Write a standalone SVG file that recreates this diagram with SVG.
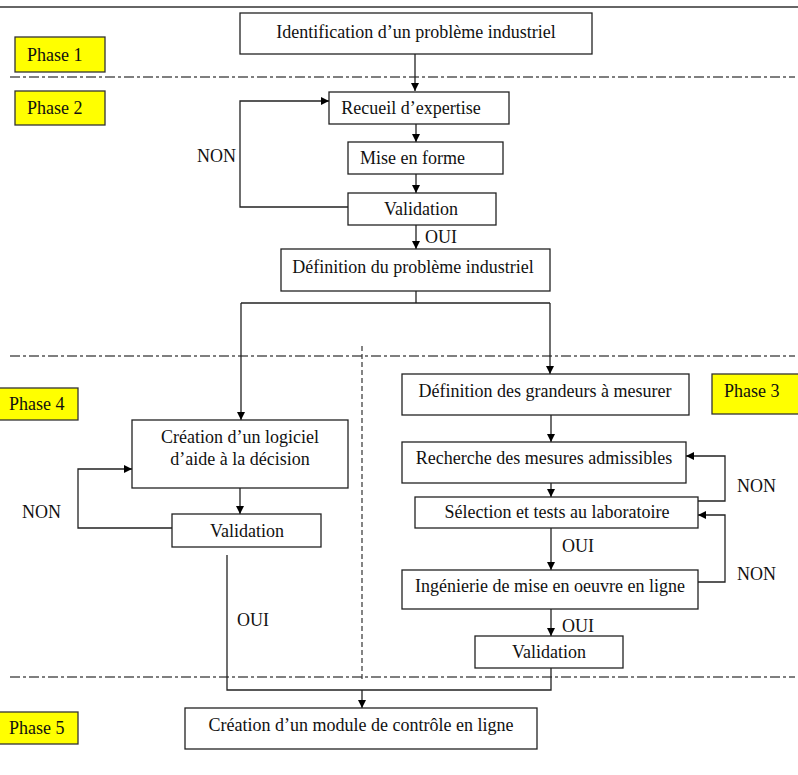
<svg xmlns="http://www.w3.org/2000/svg" width="798" height="775" viewBox="0 0 798 775" font-family="'Liberation Serif', 'Times New Roman', Times, serif" font-size="18">
<style>
.box{fill:#fff;stroke:#222;stroke-width:1.3}
.ph{fill:#ffff00;stroke:#333;stroke-width:1.3}
.t{font-family:'Liberation Serif','Times New Roman',Times,serif;font-size:18px;fill:#111}
.c{text-anchor:middle}
.ln{fill:none;stroke:#222;stroke-width:1.3}
.dd{fill:none;stroke:#555;stroke-width:1.3;stroke-dasharray:10 3 3 3}
.vd{fill:none;stroke:#333;stroke-width:1.2;stroke-dasharray:5 3}
</style>
<defs>
<marker id="ar" viewBox="0 0 10 10" refX="10" refY="5" markerWidth="8" markerHeight="8" markerUnits="userSpaceOnUse" orient="auto">
<path d="M0,0 L10,5 L0,10 z" fill="#000"/>
</marker>
</defs>
<rect width="798" height="775" fill="#fff"/>
<g id="separators">
<line x1="0" y1="7" x2="798" y2="7" stroke="#333" stroke-width="1.3"/>
<line class="dd" x1="10" y1="77" x2="795" y2="77"/>
<line class="dd" x1="10" y1="356" x2="795" y2="356"/>
<line class="dd" x1="10" y1="677" x2="795" y2="677"/>
<line class="vd" x1="362" y1="346" x2="362" y2="680"/>
</g>
<g id="connectors">
<path class="ln" d="M415,54 V91" marker-end="url(#ar)"/>
<path class="ln" d="M416,124 V142" marker-end="url(#ar)"/>
<path class="ln" d="M416,174 V193" marker-end="url(#ar)"/>
<path class="ln" d="M416,225 V249" marker-end="url(#ar)"/>
<path class="ln" d="M348,207 H240 V101 H329" marker-end="url(#ar)"/>
<path class="ln" d="M416,291 V303"/>
<path class="ln" d="M241,303 H550"/>
<path class="ln" d="M241,303 V420" marker-end="url(#ar)"/>
<path class="ln" d="M550,303 V374" marker-end="url(#ar)"/>
<path class="ln" d="M240,488 V514" marker-end="url(#ar)"/>
<path class="ln" d="M172,528 H78 V469 H132" marker-end="url(#ar)"/>
<path class="ln" d="M551,415 V442" marker-end="url(#ar)"/>
<path class="ln" d="M551,483 V497" marker-end="url(#ar)"/>
<path class="ln" d="M551,528 V570" marker-end="url(#ar)"/>
<path class="ln" d="M551,609 V636" marker-end="url(#ar)"/>
<path class="ln" d="M698,501 H725 V456 H686" marker-end="url(#ar)"/>
<path class="ln" d="M698,582 H725 V515 H698" marker-end="url(#ar)"/>
<path class="ln" d="M227,555 V690 H551 V668"/>
<path class="ln" d="M362,690 V708" marker-end="url(#ar)"/>
</g>
<g id="labels">
<text class="t" x="197" y="162">NON</text>
<text class="t" x="425" y="243">OUI</text>
<text class="t" x="22" y="518">NON</text>
<text class="t" x="237" y="626">OUI</text>
<text class="t" x="737" y="492">NON</text>
<text class="t" x="737" y="580">NON</text>
<text class="t" x="562" y="552">OUI</text>
<text class="t" x="562" y="632">OUI</text>
</g>
<g id="phase1"><rect class="ph" x="15" y="37" width="90" height="35"/><text class="t" x="27" y="61">Phase 1</text></g>
<g id="phase2"><rect class="ph" x="15" y="91" width="90" height="34"/><text class="t" x="27" y="114">Phase 2</text></g>
<g id="phase3"><rect class="ph" x="712" y="374" width="90" height="40"/><text class="t" x="724" y="397">Phase 3</text></g>
<g id="phase4"><rect class="ph" x="-2" y="388" width="80" height="32"/><text class="t" x="9" y="410">Phase 4</text></g>
<g id="phase5"><rect class="ph" x="-2" y="712" width="80" height="32"/><text class="t" x="9" y="734">Phase 5</text></g>
<g id="identification"><rect class="box" x="240" y="13" width="352" height="41"/><text class="t c" x="416" y="38">Identification d’un problème industriel</text></g>
<g id="recueil"><rect class="box" x="329" y="92" width="180" height="32"/><text class="t c" x="411" y="114">Recueil d’expertise</text></g>
<g id="mise-en-forme"><rect class="box" x="348" y="142" width="155" height="32"/><text class="t" x="360" y="164">Mise en forme</text></g>
<g id="validation1"><rect class="box" x="348" y="193" width="148" height="32"/><text class="t c" x="421" y="215">Validation</text></g>
<g id="definition-probleme"><rect class="box" x="281" y="249" width="269" height="42"/><text class="t c" x="413" y="273">Définition du problème industriel</text></g>
<g id="creation-logiciel"><rect class="box" x="132" y="420" width="216" height="68"/><text class="t c" x="240" y="443">Création d’un logiciel</text><text class="t c" x="240" y="465">d’aide à la décision</text></g>
<g id="validation2"><rect class="box" x="172" y="514" width="149" height="33"/><text class="t c" x="247" y="537">Validation</text></g>
<g id="definition-grandeurs"><rect class="box" x="402" y="374" width="287" height="41"/><text class="t c" x="545" y="397">Définition des grandeurs à mesurer</text></g>
<g id="recherche"><rect class="box" x="402" y="442" width="284" height="41"/><text class="t c" x="544" y="464">Recherche des mesures admissibles</text></g>
<g id="selection"><rect class="box" x="415" y="497" width="283" height="31"/><text class="t c" x="557" y="518">Sélection et tests au laboratoire</text></g>
<g id="ingenierie"><rect class="box" x="402" y="570" width="296" height="39"/><text class="t c" x="550" y="592">Ingénierie de mise en oeuvre en ligne</text></g>
<g id="validation3"><rect class="box" x="475" y="636" width="148" height="32"/><text class="t c" x="549" y="658">Validation</text></g>
<g id="creation-module"><rect class="box" x="185" y="708" width="352" height="41"/><text class="t c" x="361" y="731">Création d’un module de contrôle en ligne</text></g>
</svg>
